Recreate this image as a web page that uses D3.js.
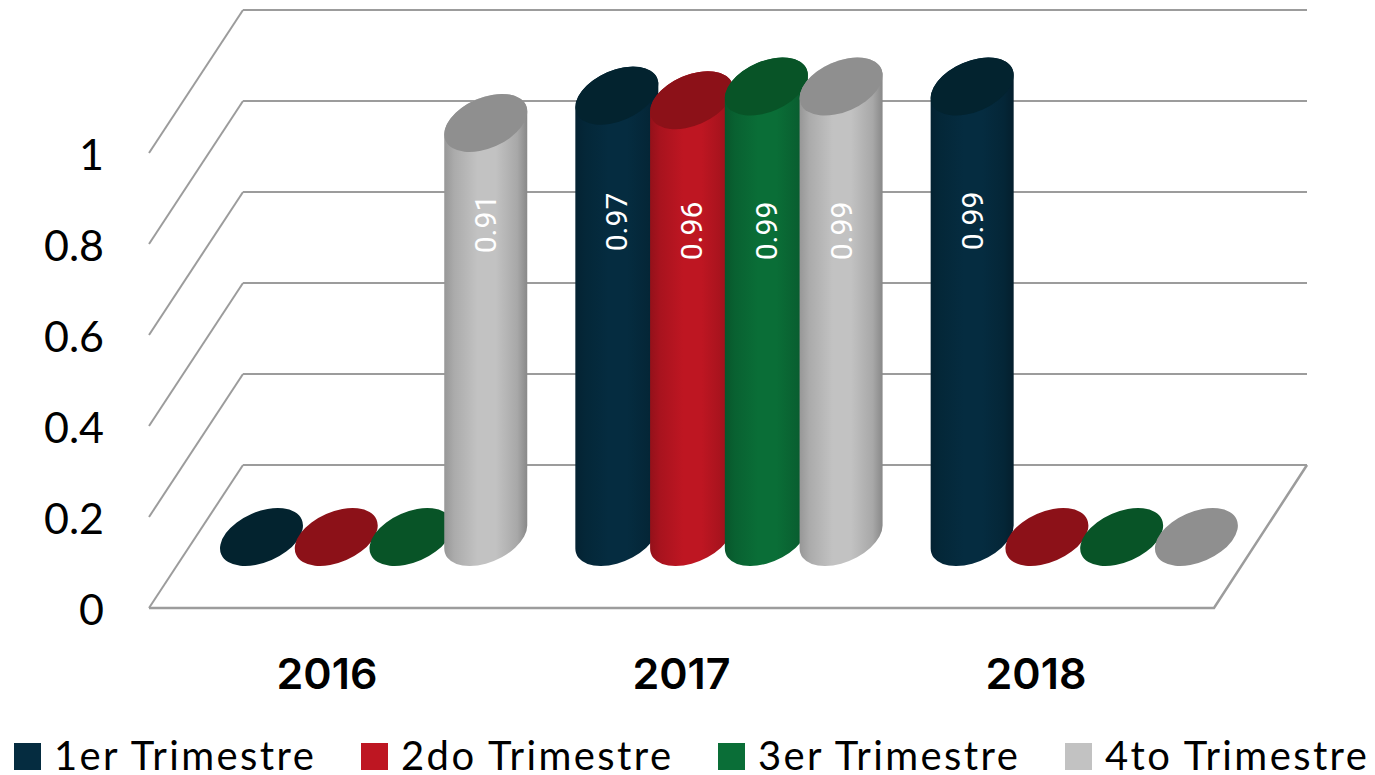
<!DOCTYPE html>
<html>
<head>
<meta charset="utf-8">
<title>Trimestres</title>
<script src="https://d3js.org/d3.v7.min.js"></script>
<style>
    html, body { margin: 0; padding: 0; background: #fff; }
    svg { display: block; }
</style>
</head>
<body>
<svg id="chart" width="1375" height="775"></svg>
<script>
const years = ["2016", "2017", "2018"];
const quarters = ["1er Trimestre", "2do Trimestre", "3er Trimestre", "4to Trimestre"];
const q1Values = [0, 0.97, 0.99];
const q2Values = [0, 0.96, 0];
const q3Values = [0, 0.99, 0];
const q4Values = [0.91, 0.99, 0];
const yTicks = [0, 0.2, 0.4, 0.6, 0.8, 1];
const barColors = ["#052c40", "#be1622", "#0a6e37", "#c2c2c2"];
const capColors = ["#03232f", "#8c1118", "#085427", "#8f8f8f"];

const seriesValues = [q1Values, q2Values, q3Values, q4Values];
const svg = d3.select("#chart");

// Perspective floor: front edge and back edge of the box
const floorFront = { left: 149, right: 1214, y: 608 };
const floorBack = { left: 243, right: 1307, y: 465 };
const wallHeight = 455;

const yFront = d3.scaleLinear().domain([0, 1]).range([floorFront.y, floorFront.y - wallHeight]);
const yBack = d3.scaleLinear().domain([0, 1]).range([floorBack.y, floorBack.y - wallHeight]);
const yBar = d3.scaleLinear().domain([0, 1]).range([537, 537 - wallHeight]);

const x0 = d3.scaleBand().domain(years).range([220, 1286]);
const x1 = d3.scaleBand().domain(quarters).range([0, 299]);
const xYear = d3.scalePoint().domain(years).range([327, 1036]);

// Grid
const grid = svg.append("g")
    .attr("fill", "none")
    .attr("stroke", "#9c9c9c")
    .attr("stroke-width", 2);

yTicks.forEach(t => {
    grid.append("line")
        .attr("x1", floorBack.left).attr("x2", floorBack.right)
        .attr("y1", yBack(t)).attr("y2", yBack(t));
    grid.append("line")
        .attr("x1", floorFront.left).attr("x2", floorBack.left)
        .attr("y1", yFront(t)).attr("y2", yBack(t));
});
grid.append("path")
    .attr("d", `M${floorFront.left},${floorFront.y}H${floorFront.right}L${floorBack.right},${floorBack.y}`)
    .attr("stroke-width", 2.5);

// Y tick labels
svg.append("g").selectAll("text")
    .data(yTicks)
    .enter().append("text")
    .attr("x", 104)
    .attr("y", d => yFront(d) + 17)
    .attr("text-anchor", "end")
    .style("font-family", "Lato")
    .style("font-size", "43px")
    .style("fill", "#000")
    .text(d => d);

// Cylinder shading
const defs = svg.append("defs");
barColors.forEach((c, i) => {
    const g = defs.append("linearGradient").attr("id", `cyl${i}`);
    const edge = d3.color(c).darker(0.7);
    const stops = [[0, edge], [0.12, d3.color(c).darker(0.35)], [0.4, c], [0.62, c], [0.88, d3.color(c).darker(0.4)], [1, d3.color(c).darker(1)]];
    stops.forEach(s => g.append("stop").attr("offset", s[0]).attr("stop-color", s[1]));
});

// Ellipse shape of the cylinder sections
const rx = 43.9, ry = 25.2, tilt = -23.6, halfW = 41.5, tangentDy = 11.5;

function bodyPath(cx, yTop, yBase) {
    return `M${cx - halfW},${yTop + tangentDy}`
        + `L${cx - halfW},${yBase + tangentDy}`
        + `A${rx},${ry} ${tilt} 0 0 ${cx + halfW},${yBase - tangentDy}`
        + `L${cx + halfW},${yTop - tangentDy}`
        + `A${rx},${ry} ${tilt} 0 0 ${cx - halfW},${yTop + tangentDy}Z`;
}

const bars = svg.append("g");
const labelRows = [];
years.forEach((year, yi) => {
    quarters.forEach((q, qi) => {
        const v = seriesValues[qi][yi];
        const cx = x0(year) + x1(q) + halfW;
        const g = bars.append("g");
        if (v > 0) {
            g.append("path")
                .attr("d", bodyPath(cx, yBar(v), yBar(0)))
                .attr("fill", `url(#cyl${qi})`);
            labelRows.push({ v, cx, yi, qi });
        }
        g.append("ellipse")
            .attr("rx", rx)
            .attr("ry", ry)
            .attr("transform", `translate(${cx},${yBar(v)}) rotate(${tilt})`)
            .attr("fill", capColors[qi]);
    });
});

// Data labels, rotated. Their vertical spot was hand-placed in the original
const labelY = d => (d.yi === 1 ? (d.qi === 0 ? 222 : 231) : d.yi === 2 ? 221 : 224);
svg.append("g").selectAll("text")
    .data(labelRows)
    .enter().append("text")
    .attr("transform", d => `translate(${d.cx},${labelY(d)}) rotate(-90)`)
    .attr("text-anchor", "middle")
    .attr("dy", "0.35em")
    .style("font-family", "Roboto")
    .style("font-size", "30px")
    .style("fill", "#fff")
    .text(d => d.v);

// Year labels
svg.append("g").selectAll("text")
    .data(years)
    .enter().append("text")
    .attr("x", d => xYear(d))
    .attr("y", 689)
    .attr("text-anchor", "middle")
    .style("font-family", "Inter")
    .style("font-weight", "600")
    .style("font-size", "43px")
    .style("fill", "#000")
    .text(d => d);

// Legend
const legendX = [14, 361, 718, 1065];
const legend = svg.append("g");
quarters.forEach((q, i) => {
    legend.append("rect")
        .attr("x", legendX[i])
        .attr("y", 743)
        .attr("width", 27)
        .attr("height", 27)
        .attr("fill", barColors[i]);
    legend.append("text")
        .attr("x", legendX[i] + 40)
        .attr("y", 770)
        .style("font-family", "Lato")
        .style("font-size", "40px")
        .style("letter-spacing", "2.4px")
        .style("fill", "#000")
        .text(q);
});
</script>
</body>
</html>
